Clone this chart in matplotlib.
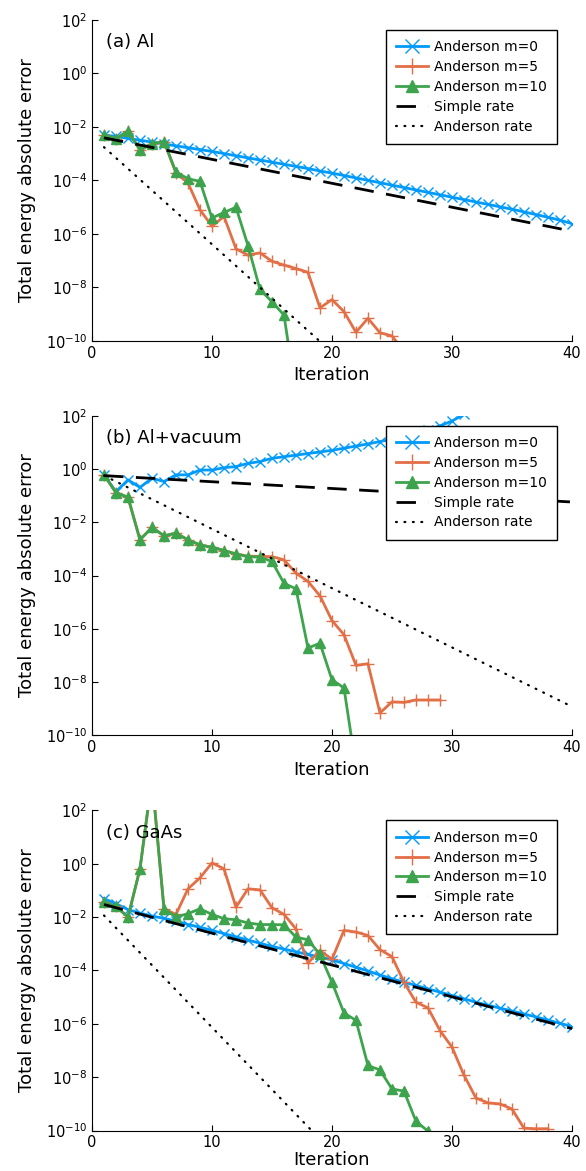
#Goal: Total energy error vs SCF iteration for three systems (Al, Al+vacuum, GaAs)
#values are log10 of the error

import matplotlib
matplotlib.use('Agg')
import matplotlib.pyplot as plt
import numpy as np
from matplotlib import rcParams

rcParams['font.family'] = 'sans-serif'
rcParams['font.sans-serif'] = ['DejaVu Sans']
rcParams['mathtext.fontset'] = 'dejavusans'
rcParams.update({'font.size': 11})

labels = ['Anderson m=0', 'Anderson m=5', 'Anderson m=10', 'Simple rate', 'Anderson rate']
titles = ['(a) Al', '(b) Al+vacuum', '(c) GaAs']

#(a) Al
al_m0 = [-2.30, -2.36, -2.43, -2.50, -2.57, -2.64, -2.71, -2.78, -2.85, -2.92,
         -3.00, -3.08, -3.16, -3.24, -3.32, -3.40, -3.48, -3.56, -3.65, -3.73,
         -3.82, -3.91, -4.00, -4.09, -4.18, -4.27, -4.36, -4.45, -4.54, -4.63,
         -4.72, -4.81, -4.90, -4.99, -5.08, -5.18, -5.28, -5.38, -5.49, -5.62]
al_m5 = [-2.30, -2.45, -2.15, -2.87, -2.63, -2.55, -3.73, -4.10, -5.10, -5.72,
         -5.35, -6.56, -6.80, -6.71, -7.03, -7.17, -7.30, -7.44, -8.77, -8.46,
         -8.91, -9.68, -9.16, -9.70, -9.82, -10.4]
al_m10 = [-2.30, -2.45, -2.15, -2.87, -2.63, -2.55, -3.69, -3.94, -4.04, -5.41,
          -5.20, -5.01, -6.44, -8.08, -8.54, -9.04, -12.0]
al_simple = [-2.41, -5.90]
al_anderson = [-2.76, -18.5]

#(b) Al+vacuum
vac_m0 = [-0.22, -0.85, -0.41, -0.69, -0.35, -0.47, -0.22, -0.22, -0.04, -0.04,
          0.05, 0.09, 0.21, 0.28, 0.40, 0.46, 0.52, 0.58, 0.64, 0.70,
          0.78, 0.86, 0.94, 1.03, 1.12, 1.22, 1.33, 1.46, 1.62, 1.80, 2.05]
vac_m5 = [-0.22, -0.89, -1.06, -2.66, -2.19, -2.51, -2.41, -2.66, -2.85, -2.94,
          -3.06, -3.19, -3.27, -3.28, -3.29, -3.41, -3.91, -4.22, -4.76, -5.69,
          -6.22, -7.37, -7.31, -9.16, -8.74, -8.76, -8.67, -8.67, -8.67]
vac_m10 = [-0.22, -0.89, -1.06, -2.66, -2.19, -2.51, -2.41, -2.66, -2.85, -2.94,
           -3.06, -3.19, -3.29, -3.31, -3.47, -4.29, -4.50, -6.72, -6.54, -7.91,
           -8.22, -11.2]
vac_simple = [-0.25, -1.24]
vac_anderson = [-0.25, -8.92]

#(c) GaAs
gaas_m0 = [-1.31, -1.50, -1.72, -1.85, -1.96, -2.05, -2.15, -2.28, -2.38, -2.50,
           -2.62, -2.74, -2.86, -2.98, -3.10, -3.20, -3.30, -3.40, -3.50, -3.60,
           -3.74, -3.88, -4.02, -4.17, -4.31, -4.44, -4.56, -4.69, -4.81, -4.94,
           -5.06, -5.19, -5.30, -5.41, -5.52, -5.63, -5.74, -5.86, -5.98, -6.10]
gaas_m5 = [-1.44, -1.60, -2.00, -0.19, 3.20, -1.69, -1.90, -0.94, -0.53, 0.03,
           -0.19, -1.63, -0.94, -0.98, -1.65, -1.90, -2.44, -3.72, -3.25, -3.58,
           -2.50, -2.56, -2.69, -3.22, -3.48, -4.44, -5.19, -5.40, -6.25, -6.87,
           -7.92, -8.78, -8.96, -9.00, -9.19, -9.91, -9.93, -9.93]
gaas_m10 = [-1.44, -1.60, -2.00, -0.19, 3.20, -1.69, -2.00, -1.87, -1.69, -1.90,
            -2.06, -2.10, -2.22, -2.28, -2.28, -2.29, -2.75, -2.85, -3.40, -4.44,
            -5.59, -5.87, -7.56, -7.73, -8.44, -8.52, -9.65, -10.02]
gaas_simple = [-1.53, -6.18]
gaas_anderson = [-1.94, -20.1]

rate_iters = [1, 40]

panels = [(al_m0, al_m5, al_m10, al_simple, al_anderson),
          (vac_m0, vac_m5, vac_m10, vac_simple, vac_anderson),
          (gaas_m0, gaas_m5, gaas_m10, gaas_simple, gaas_anderson)]

yticks = [1e2, 1e0, 1e-2, 1e-4, 1e-6, 1e-8, 1e-10]
ytick_labels = ['$10^{2}$', '$10^{0}$', '$10^{-2}$', '$10^{-4}$', '$10^{-6}$', '$10^{-8}$', '$10^{-10}$']

blue = '#009AFA'
orange = '#E26F46'
green = '#3DA44D'

fig = plt.figure(figsize=(5.86, 11.71), dpi=100)
# [left, bottom, width, height] for each panel
boxes = [[0.157, 0.709, 0.819, 0.274],
         [0.157, 0.372, 0.819, 0.273],
         [0.157, 0.0345, 0.819, 0.2735]]

for k in range(3):
    m0, m5, m10, simple, anderson = panels[k]
    ax = fig.add_axes(boxes[k])

    ax.plot(np.arange(1, len(m0) + 1), 10.0 ** np.array(m0), color=blue, lw=2,
            marker='x', markersize=7, markeredgewidth=1.0, label=labels[0])
    ax.plot(np.arange(1, len(m5) + 1), 10.0 ** np.array(m5), color=orange, lw=2,
            marker='+', markersize=8, markeredgewidth=1.0, label=labels[1])
    ax.plot(np.arange(1, len(m10) + 1), 10.0 ** np.array(m10), color=green, lw=2,
            marker='^', markersize=6.5, label=labels[2])
    ax.plot(rate_iters, 10.0 ** np.array(simple), color='black', lw=2,
            linestyle=(0, (7, 4.5)), label=labels[3])
    ax.plot(rate_iters, 10.0 ** np.array(anderson), color='black', lw=1.6,
            linestyle=(0, (0.4, 3.4)), dash_capstyle='round', label=labels[4])

    ax.set_yscale('log')
    ax.set_ylim(1e-10, 1e2)
    ax.set_xlim(0, 40)
    ax.set_yticks(yticks)
    ax.set_yticklabels(ytick_labels)
    ax.minorticks_off()
    ax.set_xticks([0, 10, 20, 30, 40])
    ax.tick_params(direction='in', length=4, labelsize=10.5)
    ax.spines['top'].set_visible(False)
    ax.spines['right'].set_visible(False)
    # the last panel sits right at the bottom edge, so its label goes a bit closer
    ax.set_xlabel('Iteration', fontsize=13, labelpad=4 if k < 2 else 0.5)
    ax.set_ylabel('Total energy absolute error', fontsize=13, labelpad=7)
    ax.text(0.03, 0.93, titles[k], transform=ax.transAxes, fontsize=13, va='center')

    leg = ax.legend(loc='upper right', bbox_to_anchor=(0.969, 0.969), fontsize=10,
                    fancybox=False, framealpha=1, edgecolor='black', markerscale=1.4,
                    handlelength=2.3, labelspacing=0.42, borderpad=0.75, handletextpad=0.4,
                    borderaxespad=0)
    leg.get_frame().set_linewidth(1)

fig.savefig('out.png', dpi=100)
